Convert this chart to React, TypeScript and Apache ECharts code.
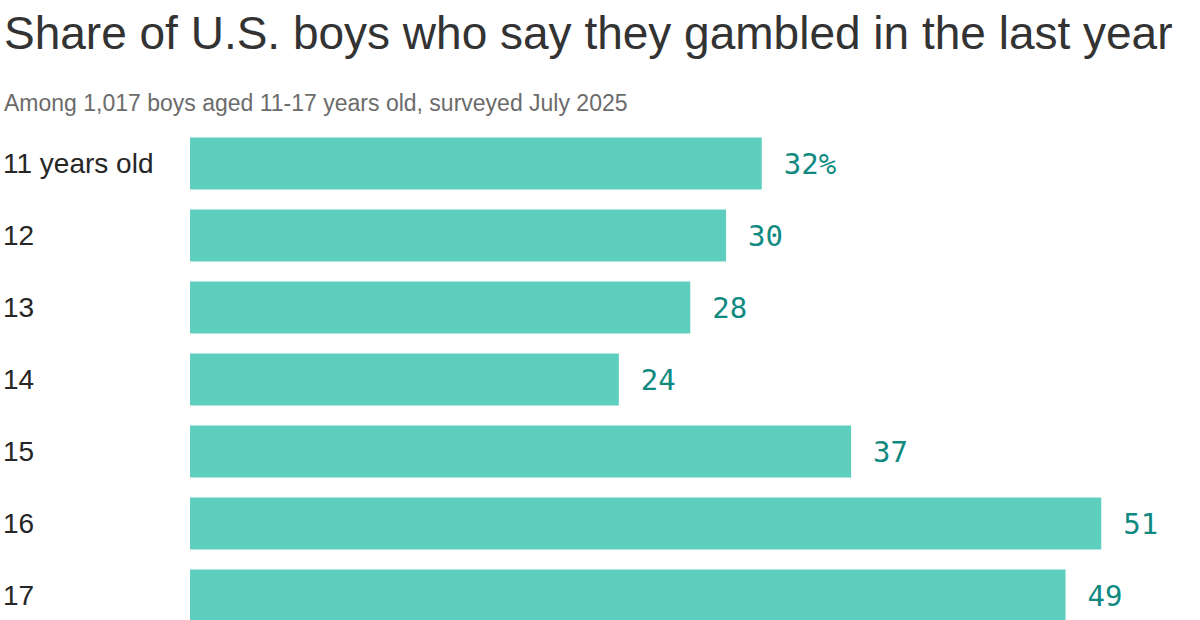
import React, { useEffect, useRef } from "react";
import * as echarts from "echarts";

const categories = ["11 years old", "12", "13", "14", "15", "16", "17"];
const values = [32, 30, 28, 24, 37, 51, 49];
const titleText = "Share of U.S. boys who say they gambled in the last year";
const subtitleText = "Among 1,017 boys aged 11-17 years old, surveyed July 2025";

export default function App() {
  const ref = useRef<HTMLDivElement>(null);
  useEffect(() => {
    document.body.style.margin = "0";
    document.body.style.overflow = "hidden";
    const chart = echarts.init(ref.current!, null, { renderer: "svg" });
    chart.setOption({
      animation: false,
      backgroundColor: "#ffffff",
      title: [
        {
          text: titleText,
          left: -1,
          top: 5,
          textStyle: { fontFamily: "Liberation Sans", fontSize: 46, fontWeight: 400, color: "#333333" },
        },
        {
          text: subtitleText,
          left: -1,
          top: 86,
          textStyle: { fontFamily: "Liberation Sans", fontSize: 23, fontWeight: 400, color: "#6b6b6b" },
        },
      ],
      grid: { left: 186, top: 127.5, height: 504, right: 9.4 },
      xAxis: {
        type: "value",
        min: 0,
        max: 56,
        show: false,
      },
      yAxis: {
        type: "category",
        data: categories,
        inverse: true,
        axisLine: { show: false },
        axisTick: { show: false },
        axisLabel: {
          align: "left",
          margin: 187,
          fontFamily: "Liberation Sans",
          fontSize: 28,
          color: "#262626",
        },
      },
      series: [
        {
          type: "bar",
          data: values,
          barWidth: 52,
          itemStyle: { color: "#5ecfbf" },
          label: {
            show: true,
            position: "right",
            distance: 22,
            fontFamily: "DejaVu Sans Mono",
            fontSize: 29,
            color: "#108a80",
            formatter: (p: any) => (p.dataIndex === 0 ? p.value + "%" : String(p.value)),
          },
        },
      ],
    });
    return () => chart.dispose();
  }, []);
  return <div ref={ref} style={{ width: 1200, height: 640 }} />;
}
